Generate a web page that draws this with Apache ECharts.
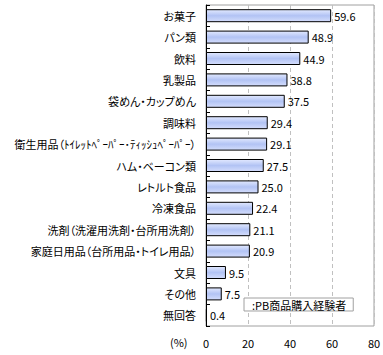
<!DOCTYPE html>
<html><head><meta charset="utf-8">
<script src="https://cdn.jsdelivr.net/npm/echarts@6/dist/echarts.min.js"></script>
<style>html,body{margin:0;padding:0;background:#fff}#c{width:383px;height:355px}
#c svg text{font-feature-settings:"palt" 1;}</style>
</head><body><div id="c"></div>
<script>
const categories = ['お菓子','パン類','飲料','乳製品','袋めん・カップめん','調味料','衛生用品（ﾄｲﾚｯﾄﾍﾟｰﾊﾟｰ･ﾃｨｯｼｭﾍﾟｰﾊﾟｰ）','ハム・ベーコン類','レトルト食品','冷凍食品','洗剤（洗濯用洗剤・台所用洗剤）','家庭日用品（台所用品・トイレ用品）','文具','その他','無回答'];
const values = [59.6,48.9,44.9,38.8,37.5,29.4,29.1,27.5,25.0,22.4,21.1,20.9,9.5,7.5,0.4];
const xTicks = [0,20,40,60,80];
const seriesName = 'PB商品購入経験者';
const unitLabel = '(%)';

const FONT = '"Noto Sans CJK JP", sans-serif';
const chart = echarts.init(document.getElementById('c'), null, {renderer:'svg'});
chart.setOption({
  animation:false,
  backgroundColor:'#fff',
  textStyle:{fontFamily:FONT},
  grid:{left:206,right:9,top:5,bottom:29,show:true,borderColor:'#a0a0a0',borderWidth:1,
    containLabel:false,outerBoundsMode:'none'},
  legend:{
    data:[seriesName], left:244, top:298, icon:'none', itemWidth:0, itemHeight:0, itemGap:0,
    borderColor:'#a0a0a0', borderWidth:1, padding:[1,7,1,3], backgroundColor:'#fff',
    formatter:n=>':'+n, textStyle:{fontSize:11,color:'#000',fontFamily:FONT,padding:0}
  },
  xAxis:{
    type:'value', min:xTicks[0], max:xTicks[xTicks.length-1], interval:20,
    axisLine:{show:false}, axisTick:{show:false},
    splitLine:{show:true,lineStyle:{color:'#c0c0c0',type:[4,3],width:1}},
    axisLabel:{color:'#000',fontSize:11,margin:11,fontFamily:FONT}
  },
  yAxis:{
    type:'category', data:categories, inverse:true,
    axisLine:{show:true,lineStyle:{color:'#000',width:1}},
    axisTick:{show:true,inside:true,length:4,lineStyle:{color:'#000'}},
    axisLabel:{color:'#000',fontSize:11,margin:10,fontFamily:FONT}
  },
  series:[{
    name:seriesName, type:'bar', data:values, barWidth:13,
    itemStyle:{
      color:new echarts.graphic.LinearGradient(0,0,0,1,[
        {offset:0,color:'#e2e9ff'},{offset:0.5,color:'#b2c3f4'},{offset:1,color:'#d4ddfc'}]),
      borderColor:'#000',borderWidth:1
    },
    label:{show:true,position:'right',distance:3,color:'#000',fontSize:11,fontFamily:FONT,
      formatter:p=>p.value.toFixed(1)}
  }],
  graphic:[{type:'text',left:170,top:336,style:{text:unitLabel,fontSize:11,fill:'#000',fontFamily:FONT}}]
});
</script></body></html>
